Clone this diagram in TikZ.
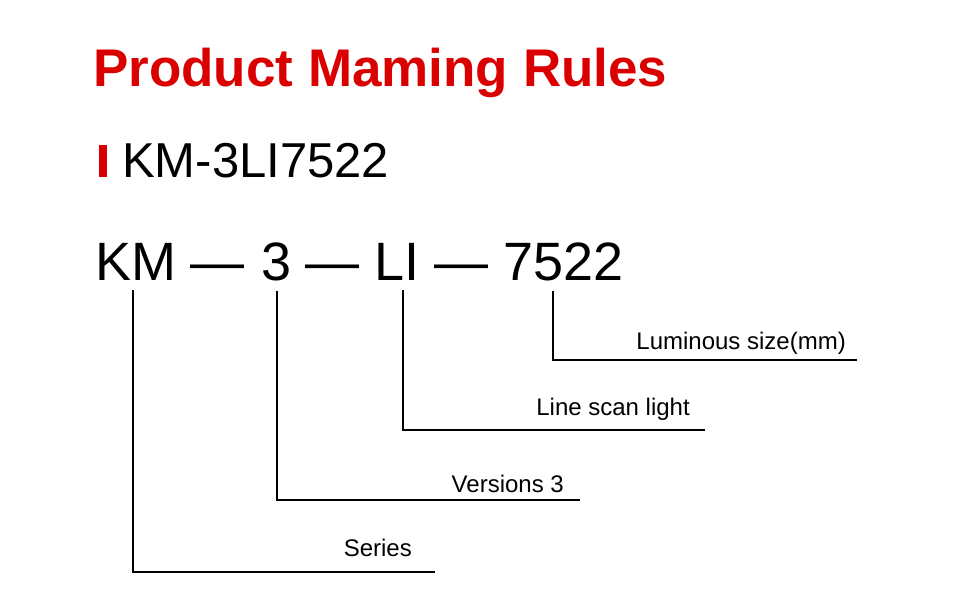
\documentclass[tikz,border=0pt]{standalone}
\usepackage{fontspec}
\setmainfont{Liberation Sans}
\definecolor{kmred}{HTML}{DA0000}

\begin{document}
\begin{tikzpicture}[x=1pt,y=-1pt,
  part/.style={anchor=base west,inner sep=0pt,font=\fontsize{54}{60}\selectfont},
  tag/.style={anchor=base east,inner sep=0pt,font=\fontsize{24}{28}\selectfont},
  lead/.style={line width=1.6pt}]
  \useasboundingbox (0,0) rectangle (971,614);
  % headings
  \node[anchor=base west,inner sep=0pt,text=kmred,font=\fontsize{53}{60}\selectfont\bfseries] (title) at (93,86) {Product Maming Rules};
  \fill[kmred] (99,145) rectangle (107,177);
  \node[anchor=base west,inner sep=0pt,font=\fontsize{49}{56}\selectfont] (model) at (122,177) {KM-3LI7522};
  % code parts
  \node[part] (km) at (95,280) {KM};
  \node[part] (d1) at (190,280) {\textemdash};
  \node[part] (ver) at (261,280) {3};
  \node[part] (d2) at (305,280) {\textemdash};
  \node[part] (li) at (374,280) {LI};
  \node[part] (d3) at (434,280) {\textemdash};
  \node[part] (size) at (503,280) {7522};
  % line ends
  \coordinate (e1) at (435,572);
  \coordinate (e2) at (580,500);
  \coordinate (e3) at (705,430);
  \coordinate (e4) at (857,360);
  \draw[lead] ([xshift=-2.5pt,yshift=-10pt]km.south) |- (e1);
  \draw[lead] ([xshift=1pt,yshift=-10pt]ver.south) |- (e2);
  \draw[lead] ([xshift=6.5pt,yshift=-10pt]li.south) |- (e3);
  \draw[lead] ([xshift=-10pt,yshift=-10pt]size.south) |- (e4);
  % labels
  \node[tag] (t1) at (412,556) {Series};
  \node[tag] (t2) at (564,492) {Versions 3};
  \node[tag] (t3) at (690,415) {Line scan light};
  \node[tag] (t4) at (846,349) {Luminous size(mm)};
\end{tikzpicture}
\end{document}
